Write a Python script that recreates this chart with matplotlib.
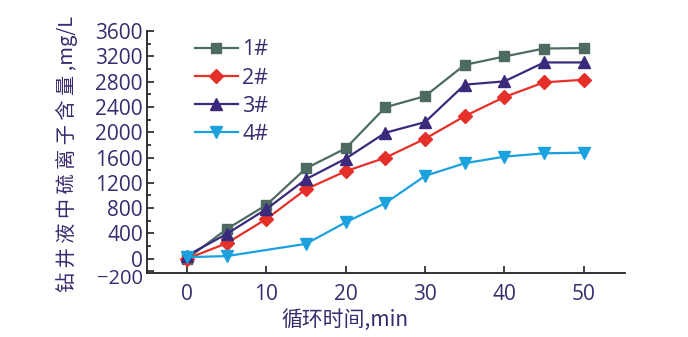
import matplotlib
matplotlib.use("Agg")
import matplotlib.pyplot as plt
import matplotlib.transforms as mtransforms
from matplotlib.ticker import MultipleLocator, FixedLocator

# cycle time (min) and sulfide content (mg/L)
t_main = [0, 5, 10, 15, 20, 25, 30, 35, 40, 45, 50]
s1 = [0, 470, 850, 1430, 1745, 2395, 2570, 3065, 3197, 3323, 3330]
s2 = [0, 246, 629, 1100, 1384, 1598, 1897, 2254, 2557, 2788, 2830]
s3 = [50, 393, 786, 1258, 1583, 1992, 2160, 2752, 2804, 3103, 3103]
t4 = [0, 5, 15, 20, 25, 30, 35, 40, 45, 50]
s4 = [26, 42, 236, 577, 880, 1310, 1510, 1614, 1667, 1677]
labels = ["1#", "2#", "3#", "4#"]
yticks = [-200, 0, 400, 800, 1200, 1600, 2000, 2400, 2800, 3200, 3600]

txt = "#3a2a6e"
cjk = ["Noto Sans CJK SC", "DejaVu Sans"]

fig = plt.figure(figsize=(6.88, 3.37), dpi=100)
ax = fig.add_axes([147/688, 1-273/337, (625-147)/688, (273-31)/337])

ax.plot(t_main, s1, color="#4e6b63", marker="s", ms=7, lw=1.6, label=labels[0])
ax.plot(t_main, s2, color="#e5302a", marker="D", ms=7, lw=1.6, label=labels[1])
ax.plot(t_main, s3, color="#3b2a7c", marker="^", ms=8, lw=1.6, label=labels[2])
ax.plot(t4, s4, color="#1ba2de", marker="v", ms=8, lw=1.6, label=labels[3])

ax.set_xlim(-5.05, 55.2)
ax.set_ylim(-225, 3600)
ax.xaxis.set_major_locator(MultipleLocator(10))
ax.yaxis.set_major_locator(FixedLocator(yticks))
ax.yaxis.set_minor_locator(MultipleLocator(200))

for side in ["top", "right"]:
    ax.spines[side].set_visible(False)
for side in ["left", "bottom"]:
    ax.spines[side].set_linewidth(1.3)
    ax.spines[side].set_color("#222222")

ax.tick_params(which="both", direction="in", color="#222222", width=1.2,
               labelcolor=txt, labelsize=15)
ax.tick_params(which="major", length=5)
ax.tick_params(which="minor", length=3)
ax.tick_params(axis="y", pad=3)
ax.tick_params(axis="x", pad=8)
for lab in ax.get_xticklabels() + ax.get_yticklabels():
    lab.set_family("Open Sans")

# the -200 label sits a little lower in the original, just under the 0
fig.canvas.draw()
shift = mtransforms.ScaledTranslation(0, -5/100, fig.dpi_scale_trans)
for tk in ax.yaxis.get_major_ticks():
    if tk.get_loc() == -200:
        tk.label1.set_transform(tk.label1.get_transform() + shift)
        tk.label1.set_fontsize(14.5)

leg = ax.legend(loc="upper left", bbox_to_anchor=(0.1, 0.965), frameon=False,
                borderpad=0, borderaxespad=0, handlelength=2.0, handletextpad=0.2,
                labelspacing=0.33, prop={"family": "Open Sans", "size": 15.5})
for t in leg.get_texts():
    t.set_color(txt)

fig.text(67/688, 1-154/337, "钻 井 液 中 硫 离 子 含 量 ,mg/L", rotation=90,
         ha="center", va="center", color=txt, fontsize=14.5, family=cjk)
fig.text(345/688, 1-320/337, "循环时间,min", ha="center", va="center",
         color=txt, fontsize=15, family=cjk)

fig.savefig("out.png", dpi=100)
